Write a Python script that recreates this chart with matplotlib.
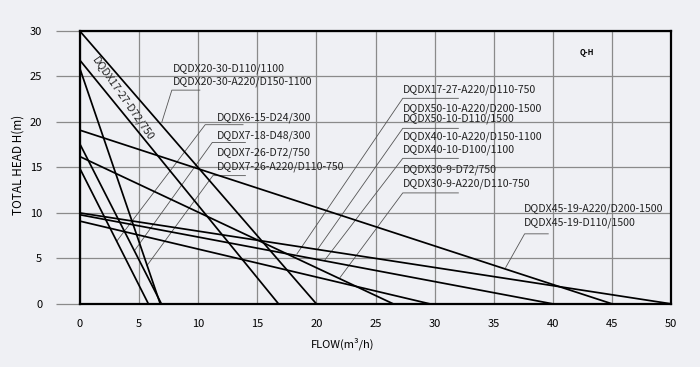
import matplotlib
matplotlib.use("Agg")
import matplotlib.pyplot as plt
import numpy as np

# Q-H curves: flow (m3/h) and head (m)
flow_20_30 = [0, 10, 20]
head_20_30 = [30, 15, 0]
flow_17_27 = [0, 16.8]
head_17_27 = [26.8, 0]
flow_7_26 = [0, 6.8]
head_7_26 = [25.9, 0]
flow_45_19 = [0, 45]
head_45_19 = [19.1, 0]
flow_7_18 = [0, 6.9]
head_7_18 = [17.6, 0]
flow_27_16 = [0, 26.5]
head_27_16 = [16.2, 0]
flow_6_15 = [0, 5.8]
head_6_15 = [14.9, 0]
flow_50_10 = [0, 50]
head_50_10 = [10.0, 0]
flow_40_10 = [0, 40]
head_40_10 = [9.8, 0]
flow_30_9 = [0, 29.6]
head_30_9 = [9.1, 0]

curves = [
    (flow_20_30, head_20_30), (flow_17_27, head_17_27), (flow_7_26, head_7_26),
    (flow_45_19, head_45_19), (flow_7_18, head_7_18), (flow_27_16, head_27_16),
    (flow_6_15, head_6_15), (flow_50_10, head_50_10), (flow_40_10, head_40_10),
    (flow_30_9, head_30_9),
]

x_ticks = [0, 5, 10, 15, 20, 25, 30, 35, 40, 45, 50]
y_ticks = [0, 5, 10, 15, 20, 25, 30]

# label groups: texts, left x, text y's, underline (x0, x1, y), leader end
groups = [
    (["DQDX20-30-D110/1100", "DQDX20-30-A220/D150-1100"], 7.87, [25.8, 24.4],
     [((7.78, 10.15, 23.5), (6.94, 20.0))]),
    (["DQDX6-15-D24/300", "DQDX7-18-D48/300", "DQDX7-26-D72/750", "DQDX7-26-A220/D110-750"],
     11.6, [20.5, 18.5, 16.6, 15.1],
     [((10.6, 13.8, 19.7), (3.13, 6.9)), ((11.2, 14.0, 17.75), (4.65, 5.9)),
      ((11.25, 14.0, 14.1), (5.67, 4.2))]),
    (["DQDX17-27-A220/D110-750", "DQDX50-10-A220/D200-1500", "DQDX50-10-D110/1500",
      "DQDX40-10-A220/D150-1100", "DQDX40-10-D100/1100", "DQDX30-9-D72/750",
      "DQDX30-9-A220/D110-750"],
     27.3, [23.5, 21.5, 20.3, 18.4, 16.9, 14.8, 13.2],
     [((27.3, 32.0, 22.6), (18.36, 5.5)), ((27.3, 32.0, 19.3), (20.1, 6.0)),
      ((27.3, 32.0, 16.0), (20.7, 4.8)), ((27.3, 32.0, 12.2), (22.0, 2.9))]),
    (["DQDX45-19-A220/D200-1500", "DQDX45-19-D110/1500"], 37.5, [10.5, 8.9],
     [((37.6, 39.6, 7.7), (36.0, 4.0))]),
]

bg = "#eff0f4"
plt.rcParams['font.family'] = ['Noto Sans CJK SC', 'DejaVu Sans']

fig = plt.figure(figsize=(7, 3.67), dpi=100, facecolor=bg)
ax = fig.add_axes([0.114, 0.172, 0.845, 0.7435])
ax.set_facecolor(bg)

for fl, hd in curves:
    ax.plot(fl, hd, color="black", lw=1.25, solid_capstyle="butt", zorder=3)

for texts, tx, tys, leaders in groups:
    for t, ty in zip(texts, tys):
        ax.text(tx, ty, t, fontsize=7.6, va="center", ha="left", color="#222222", zorder=4)
    for (x0, x1, uy), (ex, ey) in leaders:
        ax.plot([x1, x0, ex], [uy, uy, ey], color="#555555", lw=0.6, zorder=2)

ax.text(3.6, 22.5, "DQDX17-27-D72/750", fontsize=7.6, rotation=-55,
        ha="center", va="center", color="#222222", zorder=4)
ax.text(42.9, 27.6, "Q-H", fontsize=5.5, fontweight="bold", ha="center", va="center")

ax.set_xlim(0, 50)
ax.set_ylim(0, 30)
ax.set_xticks(x_ticks)
ax.set_yticks(y_ticks)
ax.grid(True, color="#8a8a8a", lw=0.9)
ax.set_axisbelow(True)
for s in ax.spines.values():
    s.set_linewidth(1.6)
    s.set_color("black")
ax.tick_params(axis="x", length=0, pad=11, labelsize=8)
ax.tick_params(axis="y", length=17, width=0.9, color="#8a8a8a", pad=10, labelsize=8)

fig.text(0.489, 0.063, "FLOW(m³/h)", fontsize=8, ha="center", va="center")
fig.text(0.026, 0.55, "TOTAL HEAD H(m)", fontsize=8.5, rotation=90, ha="center", va="center")

fig.savefig("out.png", dpi=100, facecolor=bg)
